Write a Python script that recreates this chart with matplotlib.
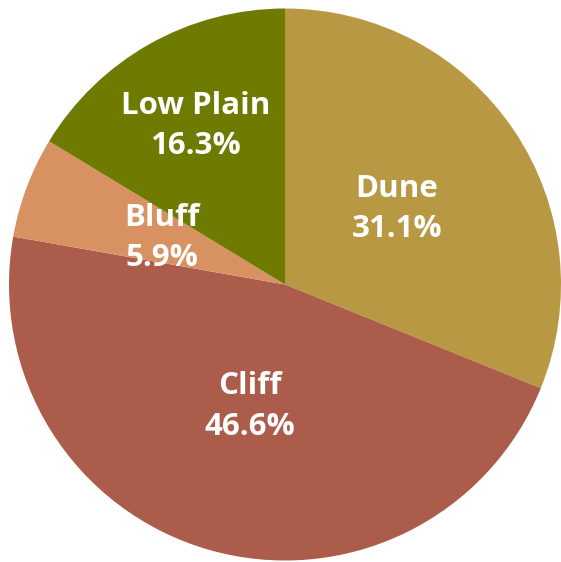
import numpy as np
import matplotlib.pyplot as plt

# Data
labels = ["Dune", "Cliff", "Bluff", "Low Plain"]
shares = [31.1, 46.6, 5.9, 16.3]
colors = ["#b89843", "#ab5c4b", "#d89262", "#6e7b00"]
label_dist = [0.49, 0.46, 0.475, 0.66]

fig = plt.figure(figsize=(5.61, 5.62), dpi=100)
ax = fig.add_axes([9 / 561, 0 / 562, 552 / 561, 555 / 562])

wedges, _ = ax.pie(shares, colors=colors, startangle=90, counterclock=False,
                   radius=1.0, wedgeprops={"linewidth": 0})
ax.set_xlim(-1, 1)
ax.set_ylim(-1, 1.0)
ax.set_aspect("equal")

for w, lab, val, d in zip(wedges, labels, shares, label_dist):
    ang = np.deg2rad((w.theta1 + w.theta2) / 2)
    ax.text(d * np.cos(ang), d * np.sin(ang), f"{lab}\n{val:.1f}%",
            ha="center", va="center", color="white", fontsize=22.5,
            fontweight="bold", family="Open Sans", linespacing=1.45)

fig.savefig("out.png", dpi=100)
